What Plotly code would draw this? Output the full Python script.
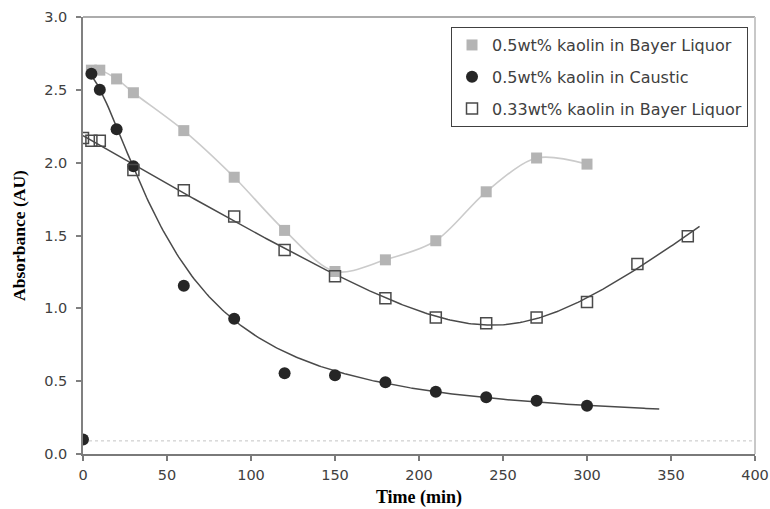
import numpy as np
import plotly.graph_objects as go

# ---- data ----
t_bayer05 = [5, 10, 20, 30, 60, 90, 120, 150, 180, 210, 240, 270, 300]
a_bayer05 = [2.635, 2.635, 2.575, 2.48, 2.22, 1.90, 1.535, 1.253, 1.333, 1.464, 1.80, 2.032, 1.99]

t_caustic = [5, 10, 20, 30, 60, 90, 120, 150, 180, 210, 240, 270, 300]
a_caustic = [2.61, 2.50, 2.23, 1.975, 1.155, 0.928, 0.555, 0.54, 0.493, 0.428, 0.39, 0.366, 0.332]
caustic_fit_excluded = [60, 120]   # points left out of the decay fit
caustic_fit_end = 343

t_bayer033 = [0, 5, 10, 30, 60, 90, 120, 150, 180, 210, 240, 270, 300, 330, 360]
a_bayer033 = [2.17, 2.15, 2.15, 1.95, 1.81, 1.63, 1.40, 1.22, 1.07, 0.937, 0.898, 0.937, 1.043, 1.305, 1.494]
bayer033_fit_end = 367

t_blank = [0]
a_blank = [0.10]
baseline = 0.09

names = ["0.5wt% kaolin in Bayer Liquor", "0.5wt% kaolin in Caustic", "0.33wt% kaolin in Bayer Liquor"]
x_ticks = [0, 50, 100, 150, 200, 250, 300, 350, 400]
y_ticks = [0.0, 0.5, 1.0, 1.5, 2.0, 2.5, 3.0]

# ---- fits ----
def decay_fit(t, a, excluded, t_end):
    """log-logistic decay  y = c0 + c1 / (1 + (t/tau)^p)"""
    t = np.asarray(t, float); a = np.asarray(a, float)
    keep = ~np.isin(t, excluded)
    tk, ak = t[keep], a[keep]
    best = None
    for tau in np.linspace(10, 300, 291):
        for p in np.linspace(0.5, 3.0, 101):
            e = 1.0 / (1.0 + (tk / tau) ** p)
            A = np.vstack([np.ones_like(e), e]).T
            coef, *_ = np.linalg.lstsq(A, ak, rcond=None)
            sse = np.sum((A @ coef - ak) ** 2)
            if best is None or sse < best[0]:
                best = (sse, tau, p, coef)
    _, tau, p, (c0, c1) = best
    x = np.linspace(t.min(), t_end, 300)
    return x, c0 + c1 / (1.0 + (x / tau) ** p)

def vee_fit(t, a, t_end):
    """hyperbolic 'V' fit  y = c0 + c1*t + c2*sqrt((t-t0)^2 + w^2)"""
    t = np.asarray(t, float); a = np.asarray(a, float)
    best = None
    for t0 in np.linspace(150, 320, 171):
        for w in np.linspace(5, 200, 79):
            h = np.sqrt((t - t0) ** 2 + w ** 2)
            A = np.vstack([np.ones_like(t), t, h]).T
            coef, *_ = np.linalg.lstsq(A, a, rcond=None)
            sse = np.sum((A @ coef - a) ** 2)
            if best is None or sse < best[0]:
                best = (sse, t0, w, coef)
    _, t0, w, c = best
    x = np.linspace(t.min(), t_end, 300)
    return x, c[0] + c[1] * x + c[2] * np.sqrt((x - t0) ** 2 + w ** 2)

xc, yc = decay_fit(t_caustic, a_caustic, caustic_fit_excluded, caustic_fit_end)
xo, yo = vee_fit(t_bayer033, a_bayer033, bayer033_fit_end)

DARK = "#404040"
GRAY = "#b4b4b4"

fig = go.Figure()

# trend lines
fig.add_trace(go.Scatter(x=t_bayer05, y=a_bayer05, mode="lines",
                         line=dict(color="#cbcbcb", width=1.6, shape="spline", smoothing=0.9),
                         showlegend=False, hoverinfo="skip"))
fig.add_trace(go.Scatter(x=xc, y=yc, mode="lines", line=dict(color="#4a4a4a", width=1.5),
                         showlegend=False, hoverinfo="skip"))
fig.add_trace(go.Scatter(x=xo, y=yo, mode="lines", line=dict(color="#4a4a4a", width=1.5),
                         showlegend=False, hoverinfo="skip"))

# markers
fig.add_trace(go.Scatter(x=t_bayer05, y=a_bayer05, mode="markers", name=names[0], legendgroup="a",
                         marker=dict(symbol="square", size=11, color=GRAY)))
fig.add_trace(go.Scatter(x=t_caustic, y=a_caustic, mode="markers", name=names[1], legendgroup="b",
                         marker=dict(symbol="circle", size=12, color="#262626")))
fig.add_trace(go.Scatter(x=t_bayer033, y=a_bayer033, mode="markers", name=names[2], legendgroup="c",
                         marker=dict(symbol="square-open", size=11, color="#4a4a4a", line=dict(width=1.5))))
fig.add_trace(go.Scatter(x=t_blank, y=a_blank, mode="markers", showlegend=False,
                         marker=dict(symbol="circle", size=12, color="#262626")))

fig.add_hline(y=baseline, line=dict(color="#c4c4c4", width=1, dash="dot"), layer="below")

# frame top / right
fig.add_shape(type="line", xref="x domain", yref="y domain", x0=0, x1=1, y0=1, y1=1,
              line=dict(color="#909090", width=1.5))
fig.add_shape(type="line", xref="x domain", yref="y domain", x0=1, x1=1, y0=0, y1=1,
              line=dict(color="#c8c8c8", width=2))

tick_font = dict(family="DejaVu Sans", size=14.5, color=DARK)
title_font = dict(family="Liberation Serif", size=18, color="#000000", weight="bold")

fig.update_layout(
    width=770, height=509,
    margin=dict(l=83, r=15, t=17, b=55),
    plot_bgcolor="white", paper_bgcolor="white",
    legend=dict(x=0.9896, xanchor="right", y=0.977, yanchor="top",
                bordercolor=DARK, borderwidth=1, bgcolor="white",
                font=dict(family="DejaVu Sans", size=16, color=DARK),
                tracegroupgap=8),
)
fig.update_xaxes(range=[0, 400], tickvals=x_ticks, ticktext=[str(v) for v in x_ticks],
                 automargin=False,
                 showline=True, linecolor="#7a7a7a", linewidth=2, showgrid=False, zeroline=False,
                 ticks="outside", ticklen=5, tickcolor="#7a7a7a", tickwidth=1.5, tickfont=tick_font,
                 ticklabelstandoff=2,
                 title=dict(text="Time (min)", font=title_font, standoff=8))
fig.update_yaxes(range=[0, 3], tickvals=y_ticks, ticktext=[f"{v:.1f}" for v in y_ticks],
                 automargin=False,
                 showline=True, linecolor="#808080", linewidth=1.5, showgrid=False, zeroline=False,
                 ticks="outside", ticklen=5, tickcolor="#808080", tickwidth=1.5, tickfont=tick_font,
                 ticklabelstandoff=6,
                 title=dict(text="Absorbance (AU)", font=dict(title_font, size=17.5), standoff=14))
fig.write_html("out.html")
